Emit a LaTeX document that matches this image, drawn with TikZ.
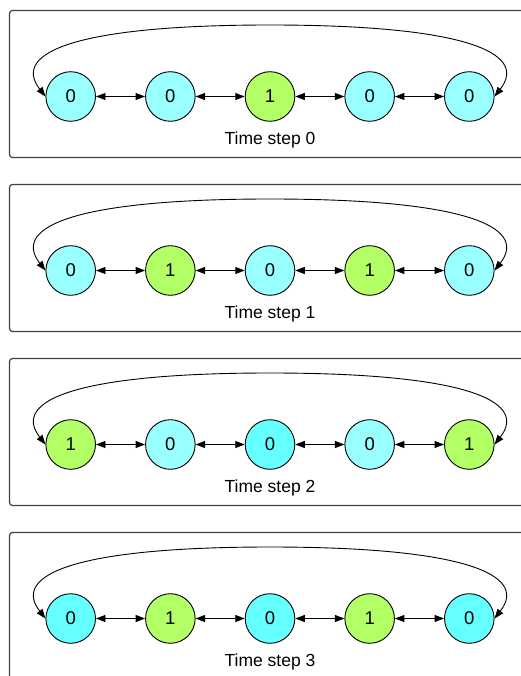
\documentclass[tikz,border=0pt]{standalone}
\usepackage{fontspec}
\setmainfont{Liberation Sans}
\usepackage{xcolor}
\usepackage{tikz}
\usetikzlibrary{arrows.meta}

\definecolor{paleCyan}{HTML}{99FFFF}
\definecolor{brightCyan}{HTML}{66FFFF}
\definecolor{aliveGreen}{HTML}{B3FF66}

\begin{document}
\begin{tikzpicture}[x=1pt, y=-1pt,
  cell/.style={circle, draw, line width=0.9pt, minimum size=49.6pt, inner sep=0pt, font=\fontsize{18.5}{20}\selectfont},
  link/.style={arrows={Triangle[length=9.5pt,width=7pt]-Triangle[length=9.5pt,width=7pt]}, line width=0.9pt},
  panel/.style={draw=black!75, line width=1.2pt, rounded corners=3pt}]

\clip (0,0) rectangle (521,676);

% one panel per time step: value/fill of the five cells
\foreach \t/\cells in {
  0/{0/paleCyan,0/paleCyan,1/aliveGreen,0/paleCyan,0/paleCyan},
  1/{0/paleCyan,1/aliveGreen,0/paleCyan,1/aliveGreen,0/paleCyan},
  2/{1/aliveGreen,0/paleCyan,0/brightCyan,0/paleCyan,1/aliveGreen},
  3/{0/brightCyan,1/aliveGreen,0/brightCyan,1/aliveGreen,0/brightCyan}} {

  \pgfmathsetmacro\py{10.5+174*\t}

  % frame
  \draw[panel] (9.5,\py) rectangle (540,\py+147);

  % cells of the ring
  \foreach \v/\c [count=\i] in \cells
    \node[cell, fill=\c] (c\t-\i) at ({70.7+99.65*(\i-1)},\py+86) {\v};

  % neighbour links
  \foreach \i [evaluate=\i as \j using int(\i+1)] in {1,...,4}
    \draw[link] (c\t-\i) -- (c\t-\j);

  % wrap-around link between the two ends
  \coordinate (top\t) at (270,\py+14.5);
  \draw[link] (c\t-1.west) .. controls +(-35,-45) and +(-190,0) .. (top\t)
    .. controls +(190,0) and +(35,-45) .. (c\t-5.east);

  \node[anchor=base, font=\fontsize{17.5}{20}\selectfont] (lbl\t) at (270,\py+134) {Time step \t};
}

\end{tikzpicture}
\end{document}
